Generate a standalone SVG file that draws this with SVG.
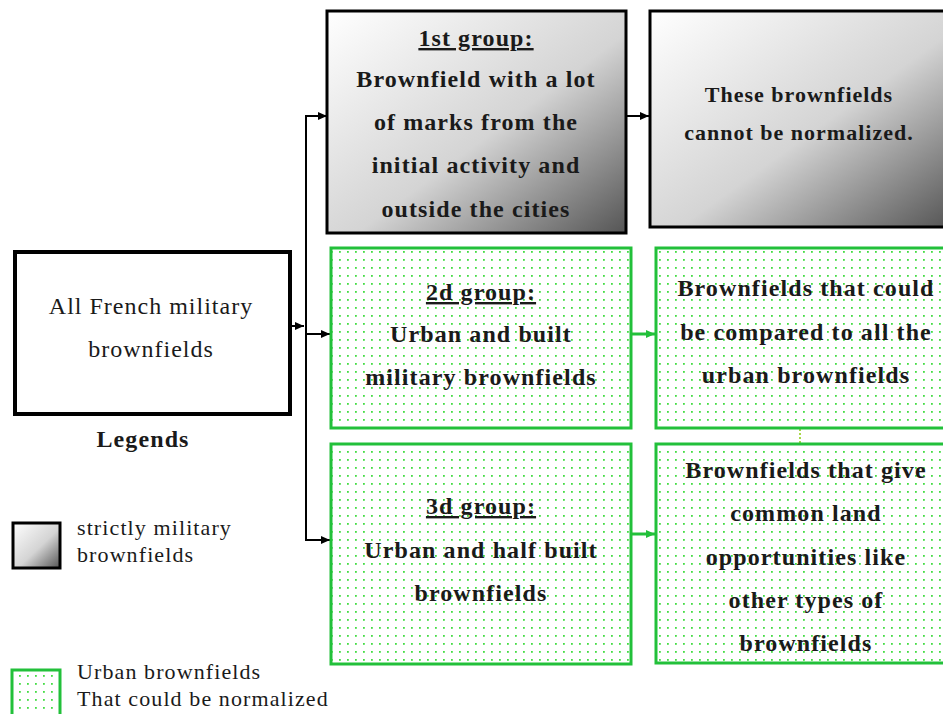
<svg xmlns="http://www.w3.org/2000/svg" width="943" height="714" viewBox="0 0 943 714">
<defs>
<linearGradient id="gray" x1="0" y1="0" x2="1" y2="1">
<stop offset="0" stop-color="#ffffff"/>
<stop offset="0.55" stop-color="#d4d4d4"/>
<stop offset="1" stop-color="#555555"/>
</linearGradient>
<pattern id="dots" width="8" height="8" patternUnits="userSpaceOnUse">
<rect width="8" height="8" fill="#ffffff"/>
<rect x="3" y="3" width="1.8" height="1.8" fill="#44dd44"/>
</pattern>
<marker id="ab" markerWidth="10" markerHeight="10" refX="9" refY="5" orient="auto" markerUnits="userSpaceOnUse">
<path d="M0,1 L9,5 L0,9 Z" fill="#000"/>
</marker>
<marker id="ag" markerWidth="10" markerHeight="10" refX="9" refY="5" orient="auto" markerUnits="userSpaceOnUse">
<path d="M0,1 L9,5 L0,9 Z" fill="#22c03a"/>
</marker>
<style>
.t{font-family:"Liberation Serif","Times New Roman",serif;fill:#1a1a1a;text-anchor:middle}
.b{font-weight:bold;font-size:24px;letter-spacing:1.1px}
.s{font-weight:bold;font-size:22px;letter-spacing:1px}
.n{font-size:24px;letter-spacing:1px}
.l{font-family:"Liberation Serif","Times New Roman",serif;fill:#1a1a1a;font-size:22px;letter-spacing:1.1px}
.u{text-decoration:underline}
.gbox{fill:url(#dots);stroke:#22c03a;stroke-width:3}
.kbox{fill:url(#gray);stroke:#000;stroke-width:3}
.c{fill:none;stroke:#000;stroke-width:2}
.cg{fill:none;stroke:#22c03a;stroke-width:3}
</style>
</defs>

<g id="connectors">
<path class="c" d="M291,326 H304" marker-end="url(#ab)"/>
<path class="c" d="M327,116 H306 V540 H330" marker-end="url(#ab)"/>
<path class="c" d="M306,116 H327" marker-end="url(#ab)"/>
<path class="c" d="M306,334 H330" marker-end="url(#ab)"/>
<path class="c" d="M627,116 H649" marker-end="url(#ab)"/>
<path class="cg" d="M632,334 H655" marker-end="url(#ag)"/>
<path class="cg" d="M632,534 H655" marker-end="url(#ag)"/>
<path d="M800,429 V444" stroke="#a8d84a" stroke-width="2" stroke-dasharray="2,2"/>
</g>

<g id="all">
<rect x="15" y="252" width="275" height="162" fill="#fff" stroke="#000" stroke-width="4"/>
<text class="t n" x="151" y="314">All French military</text>
<text class="t n" x="151" y="357">brownfields</text>
</g>

<g id="group1">
<rect class="kbox" x="327" y="11" width="299" height="222"/>
<text class="t b u" x="476" y="46">1st group:</text>
<text class="t b" x="476" y="87">Brownfield with a lot</text>
<text class="t b" x="476" y="130">of marks from the</text>
<text class="t b" x="476" y="173">initial activity and</text>
<text class="t b" x="476" y="217">outside the cities</text>
</g>

<g id="cannot">
<rect class="kbox" x="650" y="11" width="300" height="216"/>
<text class="t s" x="799" y="102">These brownfields</text>
<text class="t s" x="799" y="140">cannot be normalized.</text>
</g>

<g id="group2">
<rect class="gbox" x="331" y="248" width="300" height="180"/>
<text class="t b u" x="481" y="300">2d group:</text>
<text class="t b" x="481" y="342">Urban and built</text>
<text class="t b" x="481" y="385">military brownfields</text>
</g>

<g id="compared">
<rect class="gbox" x="656" y="248" width="294" height="180"/>
<text class="t b" x="806" y="296">Brownfields that could</text>
<text class="t b" x="806" y="340">be compared to all the</text>
<text class="t b" x="806" y="383">urban brownfields</text>
</g>

<g id="group3">
<rect class="gbox" x="331" y="444" width="300" height="220"/>
<text class="t b u" x="481" y="514">3d group:</text>
<text class="t b" x="481" y="558">Urban and half built</text>
<text class="t b" x="481" y="601">brownfields</text>
</g>

<g id="common">
<rect class="gbox" x="656" y="444" width="294" height="219"/>
<text class="t b" x="806" y="478">Brownfields that give</text>
<text class="t b" x="806" y="521">common land</text>
<text class="t b" x="806" y="565">opportunities like</text>
<text class="t b" x="806" y="608">other types of</text>
<text class="t b" x="806" y="651">brownfields</text>
</g>

<g id="legend">
<text class="t b" x="143" y="447">Legends</text>
<rect x="13" y="523" width="47" height="45" fill="url(#gray)" stroke="#000" stroke-width="3"/>
<text class="l" x="77" y="535">strictly military</text>
<text class="l" x="77" y="562">brownfields</text>
<rect x="12" y="670" width="48" height="50" fill="url(#dots)" stroke="#22c03a" stroke-width="3"/>
<text class="l" x="77" y="679">Urban brownfields</text>
<text class="l" x="77" y="706">That could be normalized</text>
</g>
</svg>
